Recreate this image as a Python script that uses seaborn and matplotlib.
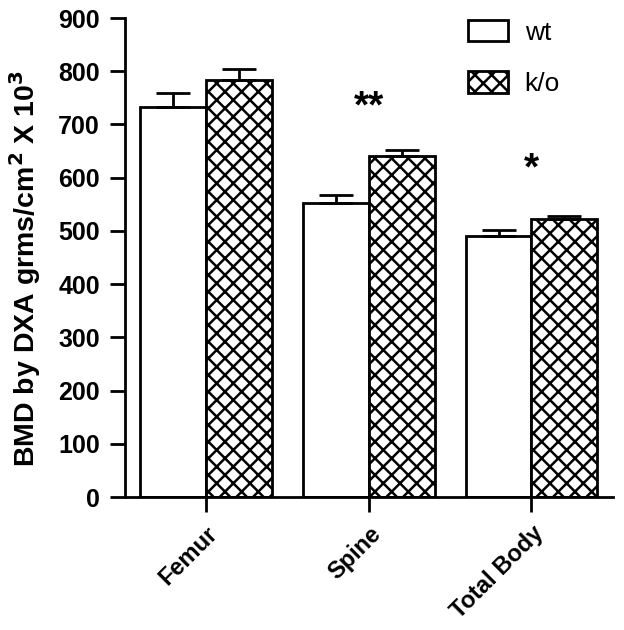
import matplotlib
matplotlib.use("Agg")
import matplotlib.pyplot as plt
import seaborn as sns
import pandas as pd

categories = ["Femur", "Spine", "Total Body"]
groups = ["wt", "k/o"]
wt_means = [733, 552, 490]
ko_means = [784, 640, 522]
wt_err = [27, 15, 11]
ko_err = [20, 12, 6]
stars = ["", "**", "*"]
star_y = [0, 731, 616]

sns.set_style("ticks")
plt.rcParams["font.family"] = ["Liberation Sans", "DejaVu Sans"]
plt.rcParams["hatch.linewidth"] = 1.8
plt.rcParams["hatch.color"] = "black"
plt.rcParams["text.color"] = "black"
plt.rcParams["axes.labelcolor"] = "black"
plt.rcParams["xtick.color"] = "black"
plt.rcParams["ytick.color"] = "black"
plt.rcParams["axes.edgecolor"] = "black"

df = pd.DataFrame({
    "cat": categories * 2,
    "grp": [groups[0]] * 3 + [groups[1]] * 3,
    "val": wt_means + ko_means,
})

fig = plt.figure(figsize=(6.24, 6.30), dpi=100)
ax = fig.add_axes([0.2003, 0.2111, 0.7817, 0.7603])

sns.barplot(data=df, x="cat", y="val", hue="grp", order=categories,
            hue_order=groups, palette=["white", "white"], width=0.81,
            errorbar=None, edgecolor="black", linewidth=2.0, ax=ax,
            saturation=1)

# hatch k/o bars and error bars
errs = {groups[0]: wt_err, groups[1]: ko_err}
bar_conts = list(ax.containers)
for ci, cont in enumerate(bar_conts):
    g = groups[ci]
    for bi, p in enumerate(cont.patches):
        if g == "k/o":
            p.set_hatch("xx")
        cx = p.get_x() + p.get_width() / 2
        top = p.get_height()
        ax.errorbar([cx], [top], yerr=[[0], [errs[g][bi]]], fmt="none",
                    ecolor="black", elinewidth=2.0, capsize=12, capthick=2.0,
                    zorder=1)

for i, s in enumerate(stars):
    if s:
        ax.text(i, star_y[i], s, ha="center", va="center", fontsize=28,
                fontweight="bold", color="black")

ax.set_xlim(-0.5, 2.5)
ax.set_ylim(0, 900)
ax.set_yticks(range(0, 901, 100))
ax.set_xlabel("")
ax.set_ylabel("BMD by DXA grms/cm$^\\mathbf{2}$ X 10$^\\mathbf{3}$", fontsize=20.5,
              fontweight="bold")
ax.yaxis.set_label_coords(-0.168, 0.478)
sns.despine(ax=ax)
for sp in ["left", "bottom"]:
    ax.spines[sp].set_linewidth(2.0)
ax.tick_params(axis="both", length=11, width=2.0)
ax.tick_params(axis="y", labelsize=18, pad=7)
ax.tick_params(axis="x", pad=7)
for lab in ax.get_yticklabels():
    lab.set_fontweight("bold")
ax.set_xticks(range(len(categories)))
ax.set_xticklabels(categories, rotation=45, ha="right", rotation_mode="anchor",
                   fontweight="bold", fontsize=17)

leg = ax.legend(loc="upper left", bbox_to_anchor=(468 / 624, 1 - 20 / 630),
                bbox_transform=fig.transFigure, borderaxespad=0, borderpad=0,
                frameon=False, fontsize=19, handlelength=1.5, handleheight=0.87,
                labelspacing=1.0, handletextpad=0.65)
for h in leg.legend_handles:
    h.set_linewidth(2.0)
    h.set_edgecolor("black")
leg.legend_handles[1].set_hatch("xx")

fig.savefig("out.png", dpi=100)
